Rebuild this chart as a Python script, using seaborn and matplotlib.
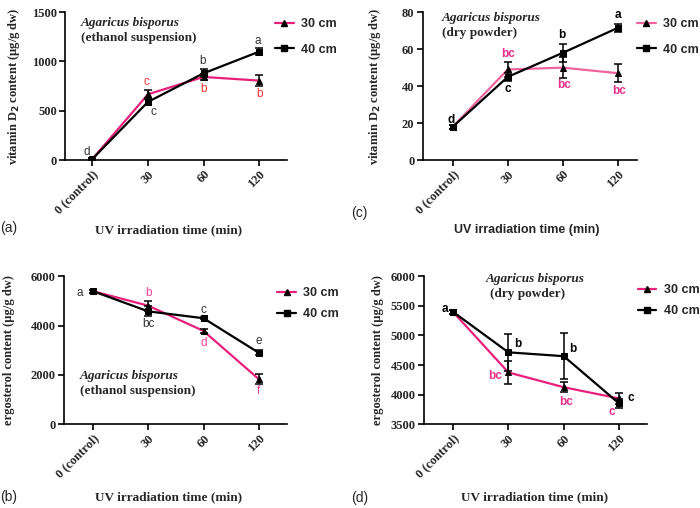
import pandas as pd
import matplotlib.pyplot as plt
import seaborn as sns
from matplotlib.lines import Line2D

# ============================================
# Data
# ============================================

times = ["0 (control)", "30", "60", "120"]
distances = ["30 cm", "40 cm"]

vitd_eth_30 = [10, 667, 843, 806]
vitd_eth_30_err = [8, 40, 30, 55]
vitd_eth_40 = [10, 590, 880, 1100]
vitd_eth_40_err = [8, 30, 40, 35]

vitd_dry_30 = [18, 49, 50, 47]
vitd_dry_30_err = [1, 4, 5.5, 5]
vitd_dry_40 = [18, 45, 58, 71.5]
vitd_dry_40_err = [1, 2, 5, 2]

erg_eth_30 = [5400, 4810, 3785, 1825]
erg_eth_30_err = [60, 200, 80, 200]
erg_eth_40 = [5400, 4580, 4300, 2895]
erg_eth_40_err = [60, 200, 50, 100]

erg_dry_30 = [5400, 4375, 4125, 3935]
erg_dry_30_err = [30, 190, 80, 90]
erg_dry_40 = [5400, 4715, 4650, 3850]
erg_dry_40_err = [30, 310, 390, 80]

letters_vitd_eth_30 = ["", "c", "b", "b"]
letters_vitd_eth_40 = ["d", "c", "b", "a"]
letters_vitd_dry_30 = ["", "bc", "bc", "bc"]
letters_vitd_dry_40 = ["d", "c", "b", "a"]
letters_erg_eth_30 = ["", "b", "d", "f"]
letters_erg_eth_40 = ["a", "bc", "c", "e"]
letters_erg_dry_30 = ["", "bc", "bc", "c"]
letters_erg_dry_40 = ["a", "b", "b", "c"]

# ============================================
# Style
# ============================================

sns.set_style("ticks")
plt.rcParams["font.family"] = ["Liberation Serif", "DejaVu Serif"]

SERIF = "Liberation Serif"
SANS = "Liberation Sans"
PINK = "#e8207c"
PINK_LIGHT = "#f0649c"


def make_df(v30, v40):
    return pd.DataFrame({
        "pos": list(range(len(times))) * 2,
        "value": v30 + v40,
        "dist": [distances[0]] * len(times) + [distances[1]] * len(times),
    })


def draw_panel(ax, v30, e30, v40, e40, pink, ylim, yticks, xlim):
    df = make_df(v30, v40)
    sns.lineplot(
        data=df, x="pos", y="value", hue="dist", style="dist",
        palette={distances[0]: pink, distances[1]: "black"},
        markers={distances[0]: "^", distances[1]: "s"},
        dashes=False, linewidth=1.6, markersize=5,
        markeredgecolor="black", legend=False, ax=ax
    )
    for line in ax.lines:
        line.set_markerfacecolor("black")
        line.set_markeredgecolor("black")
    pos = list(range(len(times)))
    ax.errorbar(pos, v30, yerr=e30, fmt="none", ecolor="black",
                elinewidth=1.1, capsize=3, capthick=1.1, zorder=5)
    ax.errorbar(pos, v40, yerr=e40, fmt="none", ecolor="black",
                elinewidth=1.1, capsize=3, capthick=1.1, zorder=5)
    ax.set_xlim(*xlim)
    ax.set_ylim(*ylim)
    ax.set_yticks(yticks)
    ax.set_xticks(pos)
    ax.set_xticklabels(times, rotation=45, ha="right",
                       rotation_mode="anchor", fontsize=9,
                       fontweight="bold", family=SERIF)
    for lab in ax.get_yticklabels():
        lab.set_fontsize(9)
        lab.set_fontweight("bold")
        lab.set_family(SERIF)
    ax.set_xlabel("")
    ax.set_ylabel("")
    for s in ["top", "right"]:
        ax.spines[s].set_visible(False)
    for s in ["left", "bottom"]:
        ax.spines[s].set_linewidth(1.2)
        ax.spines[s].set_color("black")
    ax.tick_params(width=1.2, length=4, color="black", pad=2)


def letters(ax, vals, labs, offsets, color, bold):
    for i, (v, lab) in enumerate(zip(vals, labs)):
        if not lab:
            continue
        dx, dy = offsets[i]
        ax.annotate(lab, (i, v), xytext=(dx, dy), textcoords="offset points",
                    ha="center", va="center", fontsize=8.5, color=color,
                    family=SANS, fontweight="bold" if bold else "normal")


def species(ax, x, y1, y2, second, ha="left", x2=None):
    ax.text(x, y1, "Agaricus bisporus", transform=ax.transAxes, ha=ha,
            va="center", fontsize=9.5, fontweight="bold",
            fontstyle="italic", family=SERIF)
    ax.text(x if x2 is None else x2, y2, second, transform=ax.transAxes,
            ha=ha, va="center", fontsize=9.5, fontweight="bold", family=SERIF)


def ylabel(ax, text, xpos):
    ax.set_ylabel(text, fontsize=9, fontweight="bold", family=SERIF)
    ax.yaxis.set_label_coords(xpos, 0.5)


def legend(fig, x, y, pink, gap):
    handles = [
        Line2D([], [], color=pink, lw=1.6, marker="^", ms=5,
               mfc="black", mec="black"),
        Line2D([], [], color="black", lw=1.6, marker="s", ms=4,
               mfc="black", mec="black"),
    ]
    fig.legend(handles, distances, loc="upper left",
               bbox_to_anchor=(x, y), bbox_transform=fig.transFigure,
               frameon=False, handlelength=1.5, handletextpad=0.6,
               labelspacing=gap, borderpad=0, borderaxespad=0,
               prop={"family": SANS, "weight": "bold", "size": 9})


fig = plt.figure(figsize=(7, 5.08), dpi=100)

ax_a = fig.add_axes([0.093, 0.685, 0.317, 0.291])
ax_c = fig.add_axes([0.604, 0.685, 0.306, 0.291])
ax_b = fig.add_axes([0.0914, 0.165, 0.318, 0.291])
ax_d = fig.add_axes([0.606, 0.165, 0.318, 0.291])

ylab_vitd = "vitamin D$_\\mathbf{2}$ content (\u00b5g/g dw)"
ylab_erg = "ergosterol content (\u00b5g/g dw)"

# (a) vitamin D2, ethanol suspension
draw_panel(ax_a, vitd_eth_30, vitd_eth_30_err, vitd_eth_40, vitd_eth_40_err,
           PINK, (0, 1500), [0, 500, 1000, 1500], (-0.49, 3.5))
letters(ax_a, vitd_eth_30, letters_vitd_eth_30,
        [(0, 0), (-1, 9), (0, -9), (0, -10)], "#ff3030", False)
letters(ax_a, vitd_eth_40, letters_vitd_eth_40,
        [(-4, 5), (4, -7), (-1, 8.5), (-1, 7.5)], "#333333", False)
species(ax_a, 0.07, 0.925, 0.824, "(ethanol suspension)")
ylabel(ax_a, ylab_vitd, -0.194)

# (c) vitamin D2, dry powder
draw_panel(ax_c, vitd_dry_30, vitd_dry_30_err, vitd_dry_40, vitd_dry_40_err,
           PINK_LIGHT, (0, 80), [0, 20, 40, 60, 80], (-0.545, 3.35))
letters(ax_c, vitd_dry_30, letters_vitd_dry_30,
        [(0, 0), (0, 11.5), (1, -12.5), (1, -13)], "#e8308a", True)
letters(ax_c, vitd_dry_40, letters_vitd_dry_40,
        [(-1, 5), (0, -9), (-1, 13), (0, 9.5)], "black", True)
species(ax_c, 0.09, 0.96, 0.858, "(dry powder)")
ylabel(ax_c, ylab_vitd, -0.187)

# (b) ergosterol, ethanol suspension
draw_panel(ax_b, erg_eth_30, erg_eth_30_err, erg_eth_40, erg_eth_40_err,
           PINK, (0, 6000), [0, 2000, 4000, 6000], (-0.52, 3.5))
letters(ax_b, erg_eth_30, letters_erg_eth_30,
        [(0, 0), (0, 9), (0, -8.7), (0, -8.4)], "#f0409a", False)
letters(ax_b, erg_eth_40, letters_erg_eth_40,
        [(-9.5, -1.5), (0, -9.4), (0, 5.8), (0, 8.6)], "#333333", False)
species(ax_b, 0.072, 0.324, 0.223, "(ethanol suspension)")
ylabel(ax_b, ylab_erg, -0.22)

# (d) ergosterol, dry powder
draw_panel(ax_d, erg_dry_30, erg_dry_30_err, erg_dry_40, erg_dry_40_err,
           PINK, (3500, 6000), [3500, 4000, 4500, 5000, 5500, 6000],
           (-0.52, 3.5))
letters(ax_d, erg_dry_30, letters_erg_dry_30,
        [(0, 0), (-9.5, -2.5), (2, -10.5), (-5, -10)], "#e8308a", True)
letters(ax_d, erg_dry_40, letters_erg_dry_40,
        [(-6, 2), (6.5, 6), (6.5, 5.5), (8.6, 4)], "black", True)
species(ax_d, 0.5, 0.98, 0.878, "(dry powder)", ha="center", x2=0.466)
ylabel(ax_d, ylab_erg, -0.18)

# x labels and panel letters
fig.text(0.241, 1 - 230 / 508, "UV irradiation time (min)", ha="center",
         va="center", fontsize=9.5, fontweight="bold", family=SERIF)
fig.text(0.753, 1 - 230 / 508, "UV irradiation time (min)", ha="center",
         va="center", fontsize=9, fontweight="bold", family=SANS)
fig.text(0.241, 1 - 497 / 508, "UV irradiation time (min)", ha="center",
         va="center", fontsize=9.5, fontweight="bold", family=SERIF)
fig.text(0.764, 1 - 497 / 508, "UV irradiation time (min)", ha="center",
         va="center", fontsize=9.5, fontweight="bold", family=SERIF)

for x, y, lab in [(0.0, 228, "(a)"), (0.502, 213, "(c)"),
                  (0.0, 497, "(b)"), (0.502, 498, "(d)")]:
    fig.text(x, 1 - y / 508, lab, ha="left", va="center", fontsize=10,
             family=SANS)

legend(fig, 0.393, 1 - 18 / 508, PINK, 1.1)
legend(fig, 0.91, 1 - 18 / 508, PINK_LIGHT, 1.1)
legend(fig, 0.396, 1 - 287 / 508, PINK, 0.75)
legend(fig, 0.911, 1 - 284 / 508, PINK, 0.75)

fig.savefig("out.png", dpi=100)
